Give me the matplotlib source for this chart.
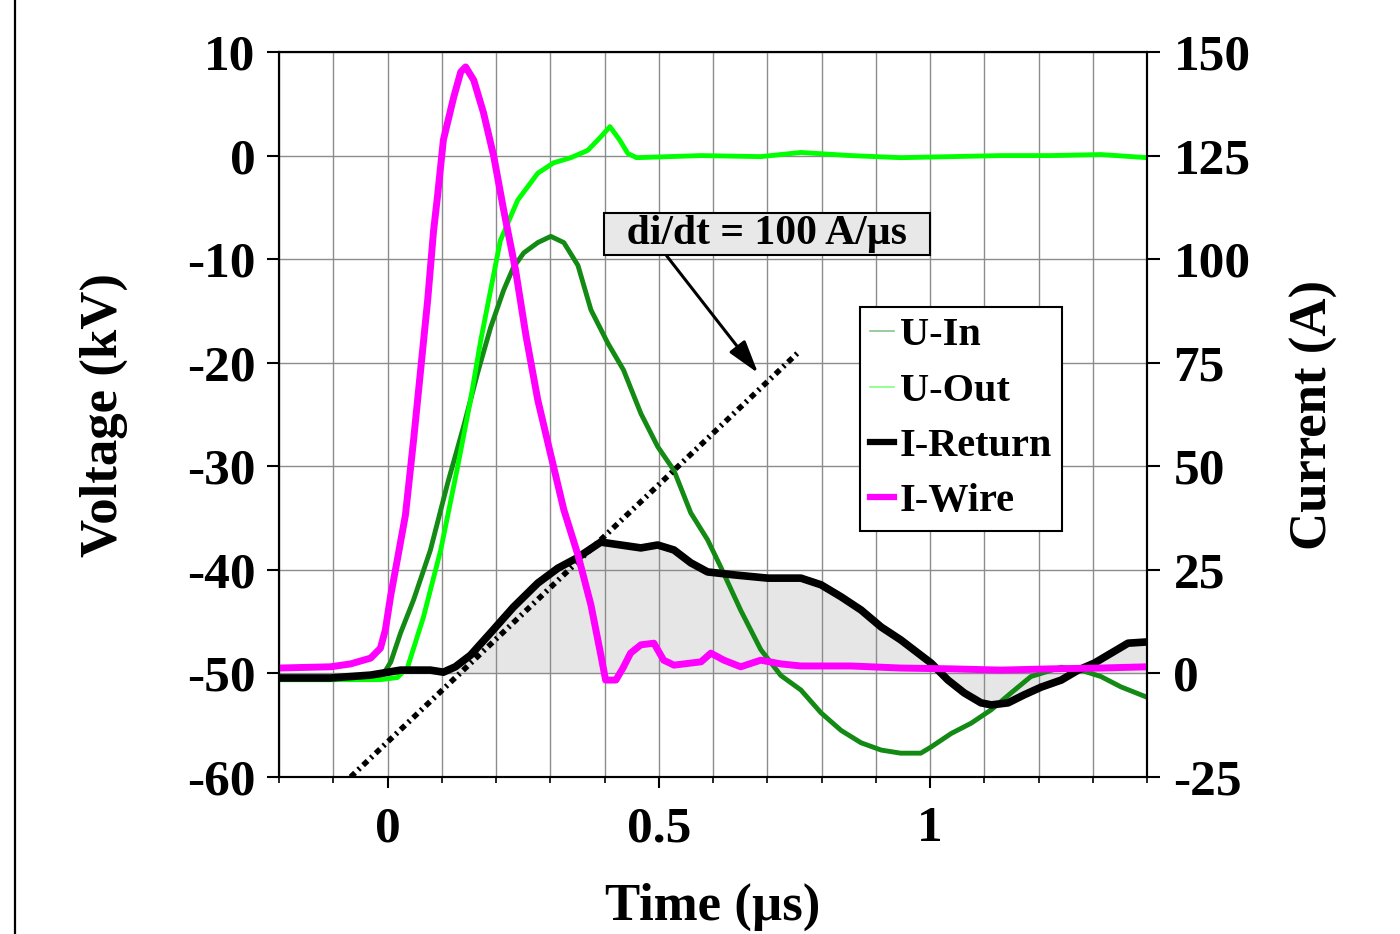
import matplotlib
matplotlib.use('Agg')
import matplotlib.pyplot as plt
from matplotlib.lines import Line2D
from matplotlib.ticker import MultipleLocator, FuncFormatter

# U-In (kV)
t_uin = [-0.2, -0.105, -0.013, 0.006, 0.024, 0.048, 0.079, 0.111, 0.14, 0.166, 0.19, 0.214,
         0.232, 0.251, 0.277, 0.301, 0.325, 0.351, 0.375, 0.406, 0.435, 0.467, 0.498, 0.528,
         0.559, 0.59, 0.614, 0.651, 0.688, 0.725, 0.762, 0.799, 0.836, 0.873, 0.91, 0.946,
         0.983, 1.002, 1.039, 1.076, 1.113, 1.149, 1.186, 1.242, 1.279, 1.315, 1.352, 1.4]
u_in = [-50.6, -50.6, -50.5, -48.9, -46.1, -42.9, -38.1, -31.6, -26.2, -21.0, -16.6, -13.0,
        -10.8, -9.4, -8.4, -7.8, -8.4, -10.6, -14.9, -18.1, -20.7, -24.9, -28.1, -30.4,
        -34.5, -37.1, -39.7, -43.9, -47.7, -50.2, -51.6, -53.8, -55.5, -56.7, -57.4, -57.7,
        -57.7, -57.1, -55.8, -54.8, -53.5, -51.9, -50.3, -49.4, -49.7, -50.3, -51.3, -52.3]

# U-Out (kV)
t_uout = [-0.2, -0.105, -0.013, 0.018, 0.037, 0.066, 0.098, 0.129, 0.153, 0.172, 0.19, 0.208,
          0.24, 0.277, 0.306, 0.338, 0.369, 0.393, 0.41, 0.428, 0.443, 0.459, 0.578, 0.688,
          0.762, 0.854, 0.946, 1.039, 1.131, 1.223, 1.315, 1.4]
u_out = [-50.6, -50.6, -50.6, -50.4, -49.4, -44.6, -38.1, -30.1, -23.6, -17.8, -13.0, -8.2,
         -4.3, -1.7, -0.7, -0.2, 0.5, 1.8, 2.8, 1.5, 0.2, -0.2, 0.0, -0.1,
         0.3, 0.0, -0.2, -0.1, 0.0, 0.0, 0.1, -0.2]

# I-Return (A)
t_iret = [-0.2, -0.105, -0.031, 0.024, 0.079, 0.103, 0.125, 0.153, 0.19, 0.232, 0.277, 0.314,
          0.351, 0.393, 0.43, 0.467, 0.498, 0.528, 0.559, 0.59, 0.638, 0.701, 0.762, 0.799,
          0.836, 0.873, 0.91, 0.946, 0.978, 1.002, 1.033, 1.063, 1.094, 1.113, 1.144, 1.173,
          1.205, 1.242, 1.273, 1.303, 1.334, 1.365, 1.4]
i_ret = [-1.1, -1.1, -0.4, 0.8, 0.8, 0.3, 1.6, 4.4, 9.8, 16.0, 21.8, 25.4,
         28.0, 31.7, 31.0, 30.3, 31.0, 29.8, 26.7, 24.5, 23.8, 23.0, 23.0, 21.4,
         18.5, 15.3, 11.2, 8.1, 4.9, 2.5, -1.6, -4.7, -7.1, -7.6, -7.1, -5.2,
         -3.3, -1.6, 0.8, 2.5, 4.9, 7.3, 7.6]

# I-Wire (A)
t_iwire = [-0.2, -0.105, -0.068, -0.031, -0.013, -0.004, 0.006, 0.018, 0.033, 0.048, 0.061,
           0.074, 0.085, 0.092, 0.103, 0.122, 0.135, 0.144, 0.159, 0.177, 0.196, 0.214, 0.236,
           0.255, 0.277, 0.301, 0.325, 0.351, 0.375, 0.393, 0.402, 0.421, 0.434, 0.448, 0.467,
           0.491, 0.509, 0.528, 0.559, 0.578, 0.596, 0.62, 0.651, 0.688, 0.725, 0.762, 0.854,
           0.946, 1.039, 1.131, 1.223, 1.315, 1.4]
i_wire = [1.3, 1.6, 2.3, 3.7, 6.1, 10.5, 18.9, 27.4, 38.2, 56.3, 73.2,
          90.1, 107.0, 115.0, 128.8, 139.1, 145.2, 146.4, 143.2, 135.3, 124.7, 111.9, 97.4,
          81.7, 66.0, 52.7, 39.5, 28.6, 16.5, 4.6, -1.6, -1.6, 1.3, 4.9, 6.9,
          7.3, 3.2, 2.0, 2.5, 2.8, 4.9, 3.2, 1.6, 3.2, 2.3, 1.8, 1.8,
          1.3, 1.1, 0.8, 1.1, 1.3, 1.6]

# di/dt guide line (A)
t_didt = [-0.068, 0.758]
i_didt = [-25, 77.6]

labels = ['U-In', 'U-Out', 'I-Return', 'I-Wire']
c_uin = '#138a13'
c_uout = '#00ff00'

plt.rcParams['font.family'] = 'Liberation Serif'
plt.rcParams['font.weight'] = 'bold'
plt.rcParams['axes.labelweight'] = 'bold'

fig = plt.figure(figsize=(14, 9.34), dpi=100)
ax = fig.add_axes([0.1993, 0.1681, 0.62, 0.7762])
ax2 = ax.twinx()

ax.set_xlim(-0.2, 1.4)
ax.set_ylim(-60, 10)
ax2.set_ylim(-25, 150)

ax.xaxis.set_major_locator(MultipleLocator(0.5))
ax.xaxis.set_minor_locator(MultipleLocator(0.1))
ax.yaxis.set_major_locator(MultipleLocator(10))
ax2.yaxis.set_major_locator(MultipleLocator(25))
fmt = FuncFormatter(lambda v, p: '%g' % round(v, 6))
ax.xaxis.set_major_formatter(fmt)
ax.yaxis.set_major_formatter(fmt)
ax2.yaxis.set_major_formatter(fmt)

ax.grid(True, which='both', axis='x', color='#8c8c8c', lw=1.0)
ax.grid(True, which='major', axis='y', color='#8c8c8c', lw=1.0)

# shaded area under I-Return, drawn below the voltage traces
ax.fill_between(t_iret, 0, i_ret, transform=ax2.transData, color='#e6e6e6', lw=0, zorder=1)

ax.plot(t_uin, u_in, color=c_uin, lw=3.5, zorder=2)
ax.plot(t_uout, u_out, color=c_uout, lw=3.5, zorder=2)

ax2.plot(t_didt, i_didt, color='black', lw=4, dashes=(1.1, 0.8, 0.4, 0.8))
ax2.plot(t_iret, i_ret, color='black', lw=5.5)
ax2.plot(t_iwire, i_wire, color='magenta', lw=5)

ax2.annotate('  di/dt = 100 A/µs  ', xy=(0.683, 72.5), xytext=(0.700, 106.1),
             ha='center', va='center', fontsize=30,
             bbox=dict(boxstyle='square,pad=0.05', fc='#e8e8e8', ec='black', lw=1.5),
             arrowprops=dict(arrowstyle='-|>,head_length=1.0,head_width=0.3', color='black',
                             lw=2.2, mutation_scale=20, relpos=(0.18, 0), shrinkA=0, shrinkB=0))

handles = [Line2D([], [], color=c_uin, lw=1.2, alpha=0.5),
           Line2D([], [], color=c_uout, lw=1.2, alpha=0.5),
           Line2D([], [], color='black', lw=4.5),
           Line2D([], [], color='magenta', lw=4.5)]
leg = ax2.legend(handles, labels, loc='upper left', bbox_to_anchor=(0.669, 0.648),
                 borderaxespad=0, fontsize=29, handlelength=0.6, handletextpad=0.15,
                 labelspacing=0.45, borderpad=0.25, fancybox=False, framealpha=1,
                 edgecolor='black')
leg.get_frame().set_linewidth(1.5)

ax.tick_params(axis='x', which='major', direction='out', length=8, width=1.5, labelsize=37, pad=13)
ax.tick_params(axis='x', which='minor', direction='out', length=4, width=1.2)
ax.tick_params(axis='y', direction='out', length=9, width=1.5, labelsize=37, pad=8)
ax2.tick_params(axis='y', direction='out', length=9, width=1.5, labelsize=37, pad=10)
for a in (ax, ax2):
    for s in a.spines.values():
        s.set_linewidth(1.5)

ax.set_xlabel('Time (µs)', fontsize=38, labelpad=22)
ax.set_ylabel('Voltage (kV)', fontsize=38, labelpad=42)
ax2.set_ylabel('Current (A)', fontsize=38, labelpad=28)

fig.add_artist(Line2D([0.0107, 0.0107], [0, 1], transform=fig.transFigure, color='black', lw=1.6))

plt.savefig('out.png', dpi=100)
